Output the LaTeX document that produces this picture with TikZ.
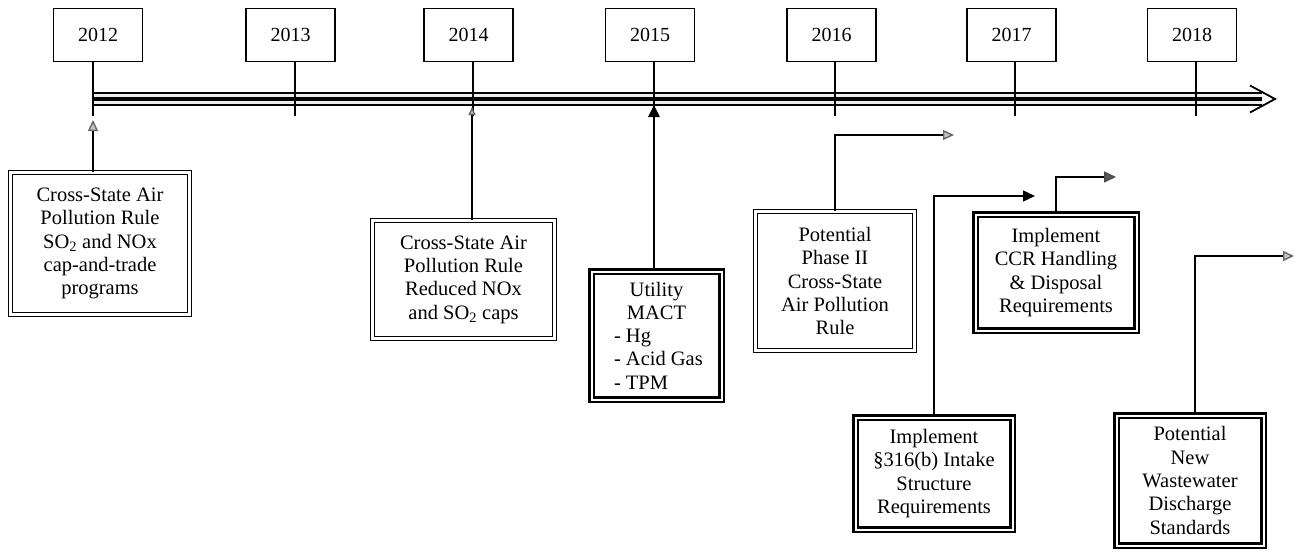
\documentclass[tikz,border=0pt]{standalone}
\usepackage{fontspec}
\setmainfont{Liberation Serif}
\usetikzlibrary{arrows.meta}
\begin{document}
\begin{tikzpicture}[x=1pt,y=-1pt,
  yearbox/.style={draw, line width=1.3pt, minimum width=89pt, minimum height=53pt,
    inner sep=0pt, font=\fontsize{20}{23}\selectfont},
  evbox/.style={draw, double, double distance=2.4pt, line width=1.2pt, align=center,
    inner sep=0pt, font=\fontsize{20.5}{23.3}\selectfont},
  evboxb/.style={evbox, line width=2.2pt, double distance=2pt},
  yeartick/.style={line width=1.4pt},
  link/.style={line width=1.4pt},
  greytip/.style={-{Triangle[length=11pt,width=10pt,fill=gray!45,color=gray!80!black]}},
  darktip/.style={-{Triangle[length=12pt,width=11pt,fill=black,color=black]}},
]
\useasboundingbox (0,0) rectangle (1295,551);

% year boxes
\node[yearbox] (y12) at (98,35)    {2012};
\node[yearbox] (y13) at (290.5,35) {2013};
\node[yearbox] (y14) at (468.5,35) {2014};
\node[yearbox] (y15) at (650,35)   {2015};
\node[yearbox] (y16) at (831.5,35) {2016};
\node[yearbox] (y17) at (1011.5,35){2017};
\node[yearbox] (y18) at (1192,35)  {2018};

% tick ends below the time line
\coordinate (t12) at (93,116);
\coordinate (t13) at (295,116);
\coordinate (t14) at (473,116);
\coordinate (t15) at (654,116);
\coordinate (t16) at (835,116);
\coordinate (t17) at (1015,116);
\coordinate (t18) at (1196,116);

% time line: double rule with a heavy centre stroke and an open chevron head
\coordinate (tl0) at (93,99);
\coordinate (tl1) at (1275,99);
\coordinate (tlshaft) at (1262,99);
\draw[double=gray!15, double distance=10pt, line width=1.6pt] (tl0) -- (tlshaft);
\draw[line width=3.6pt] (tl0) -- (tlshaft);
\draw[line width=1.8pt, line join=miter] (1250,85.5) -- (tl1) -- (1250,112.5);

% ticks
\foreach \y/\t in {y12/t12, y13/t13, y14/t14, y15/t15, y16/t16, y17/t17, y18/t18}
  \draw[yeartick] (\t |- \y.south) -- (\t);

% event boxes
\node[evbox] (b1) at (100,243.5) [minimum width=179pt, minimum height=142pt]
  {Cross-State Air\\Pollution Rule\\SO\textsubscript{2} and NOx\\cap-and-trade\\programs};
\node[evbox] (b2) at (463.5,279.5) [minimum width=182pt, minimum height=118pt]
  {Cross-State Air\\Pollution Rule\\Reduced NOx\\and SO\textsubscript{2} caps};
\node[evboxb] (b3) at (656.5,335.5) [minimum width=130pt, minimum height=128pt]
  {Utility\\MACT\\\makebox[85pt][l]{- Hg}\\\makebox[85pt][l]{- Acid Gas}\\\makebox[85pt][l]{- TPM}};
\node[evbox] (b4) at (835,281) [minimum width=159pt, minimum height=139pt]
  {Potential\\Phase II\\Cross-State\\Air Pollution\\Rule};
\node[evboxb] (b5) at (934,473.5) [minimum width=157pt, minimum height=112pt]
  {Implement\\§316(b) Intake\\Structure\\Requirements};
\node[evboxb] (b6) at (1056,272.5) [minimum width=161pt, minimum height=116pt]
  {Implement\\CCR Handling\\\& Disposal\\Requirements};
\node[evboxb] (b7) at (1190,480.5) [minimum width=147pt, minimum height=130pt]
  {Potential\\New\\Wastewater\\Discharge\\Standards};

% connectors up to the time line
\coordinate (e12) at (93,120);
\coordinate (e14) at (472,107);
\coordinate (e15) at (654,105);
\draw[link, greytip] (e12 |- b1.north) -- (e12);
\draw[link, -{Triangle[length=8pt,width=7pt,fill=gray!45,color=gray!80!black]}] (e14 |- b2.north) -- (e14);
\draw[line width=2.6pt, darktip] (e15 |- b3.north) -- (e15);

% elbow connectors pointing to later dates
\coordinate (e16) at (954,135);
\coordinate (e17) at (1035,196);
\coordinate (e18) at (1116,177);
\coordinate (e19) at (1294,256);
\coordinate (c19) at (1195,0);
\draw[link, greytip] (b4.north) |- (e16);
\draw[link, darktip] (b5.north) |- (e17);
\draw[link, -{Triangle[length=12pt,width=11pt,fill=gray!70!black,color=gray!60!black]}] (b6.north) |- (e18);
\draw[link, greytip] (c19 |- b7.north) |- (e19);
\end{tikzpicture}
\end{document}
